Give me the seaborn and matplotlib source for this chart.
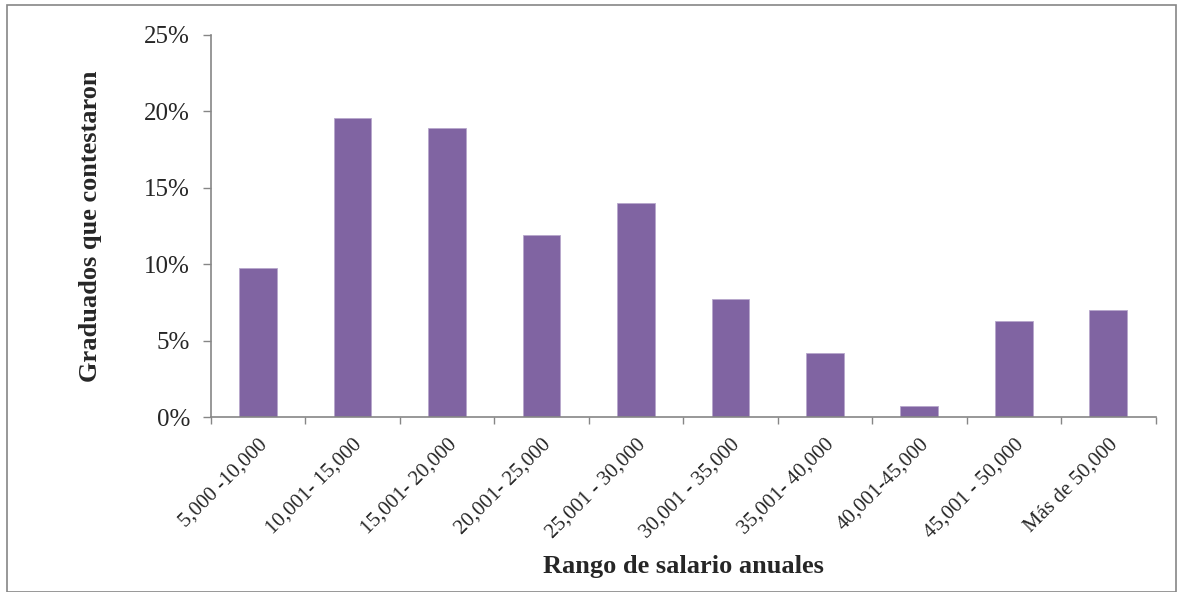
import matplotlib
matplotlib.use("Agg")
import matplotlib.pyplot as plt
import seaborn as sns
import pandas as pd
import numpy as np
from matplotlib.ticker import PercentFormatter, FixedLocator
from matplotlib.patches import Rectangle

categories = ["5,000 -10,000", "10,001- 15,000", "15,001- 20,000", "20,001- 25,000",
              "25,001 - 30,000", "30,001 - 35,000", "35,001- 40,000", "40,001-45,000",
              "45,001 - 50,000", "Más de 50,000"]
values = [9.75, 19.6, 18.9, 11.9, 14.0, 7.7, 4.2, 0.7, 6.3, 7.0]
y_ticks = [0, 5, 10, 15, 20, 25]

df = pd.DataFrame({"rango": categories, "pct": values})

sns.set_style("white")
plt.rcParams['font.family'] = ['Liberation Serif', 'DejaVu Serif']

fig = plt.figure(figsize=(11.84, 5.92), dpi=100)
ax = fig.add_axes([0.178, 0.2956, 0.798, 0.6453])

sns.barplot(data=df, x="rango", y="pct", color="#8064A2", width=0.4,
            saturation=1, edgecolor="#B7A7CC", linewidth=0.6, ax=ax)

ax.set_xlim(-0.5, len(categories) - 0.5)
ax.set_ylim(0, 25)
ax.set_yticks(y_ticks)
ax.yaxis.set_major_formatter(PercentFormatter(decimals=0))

ax.set_xticks(range(len(categories)))
ax.set_xticklabels(categories, rotation=45, ha="right", rotation_mode="anchor", fontsize=15)
ax.xaxis.set_minor_locator(FixedLocator(np.arange(-0.5, len(categories), 1.0)))
ax.tick_params(axis="x", which="major", length=0, pad=13)
ax.tick_params(axis="x", which="minor", length=5, width=1, color="#868686", direction="out", bottom=True)
ax.tick_params(axis="y", which="major", length=6, width=1, color="#868686", direction="out",
               left=True, labelsize=18, pad=9)

for s in ["top", "right"]:
    ax.spines[s].set_visible(False)
for s in ["left", "bottom"]:
    ax.spines[s].set_color("#868686")
    ax.spines[s].set_linewidth(1.2)

ax.set_xlabel("Rango de salario anuales", fontsize=19, fontweight="bold")
ax.set_ylabel("Graduados que contestaron", fontsize=19, fontweight="bold")
ax.xaxis.set_label_coords(0.5, -0.36)
ax.yaxis.set_label_coords(-0.115, 0.5)

fig.patches.append(Rectangle((7/1184, 0.0), (1176-7)/1184, 1 - 5/592, transform=fig.transFigure,
                             fill=False, edgecolor="#868686", linewidth=1.2))

fig.savefig("out.png", dpi=100)
